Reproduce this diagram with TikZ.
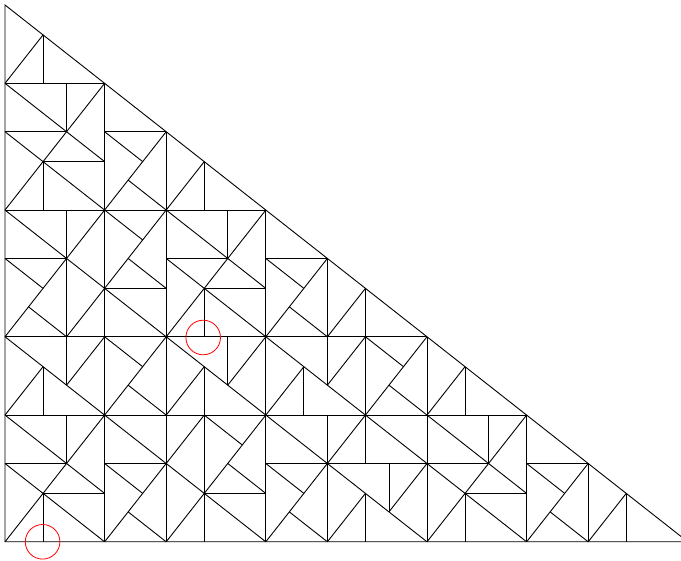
\documentclass[tikz,border=0pt]{standalone}
\tikzset{tile/.style={draw=black,line width=0.9pt},
  mark circle/.style={draw=red,line width=0.8pt}}
% Kepler-triangle recursive altitude split:
% #1,#2 right-angle vertex R; #3,#4 end of short leg P; #5,#6 end of long leg Q; #7 level
\newcommand\kt[7]{%
  \ifnum#7<10\relax
    \pgfmathsetmacro\ktDx{#3+0.381966*(#5-(#3))}%
    \pgfmathsetmacro\ktDy{#4+0.381966*(#6-(#4))}%
    \draw[tile] (#1,#2) -- (\ktDx,\ktDy);%
    \edef\ktNext{\noexpand\kt{\ktDx}{\ktDy}{#3}{#4}{#1}{#2}{\the\numexpr#7+2\relax}%
      \noexpand\kt{\ktDx}{\ktDy}{#1}{#2}{#5}{#6}{\the\numexpr#7+1\relax}}%
    \ktNext
  \fi}
\begin{document}
\begin{tikzpicture}[x=1pt,y=-1pt]
\useasboundingbox (0,0) rectangle (681,561);
\clip (0,0) rectangle (681,561);
\coordinate (O) at (5,541.8);
\coordinate (C) at (5,5);
\coordinate (B) at (687.8,541.8);
\draw[tile] (C) -- (O) -- (B) -- cycle;
\kt{5}{541.8}{5}{5}{687.8}{541.8}{0}
\draw[mark circle] (42.6,541.8) circle[radius=17.3];
\draw[mark circle] (203.2,337.5) circle[radius=17.3];
\end{tikzpicture}
\end{document}
